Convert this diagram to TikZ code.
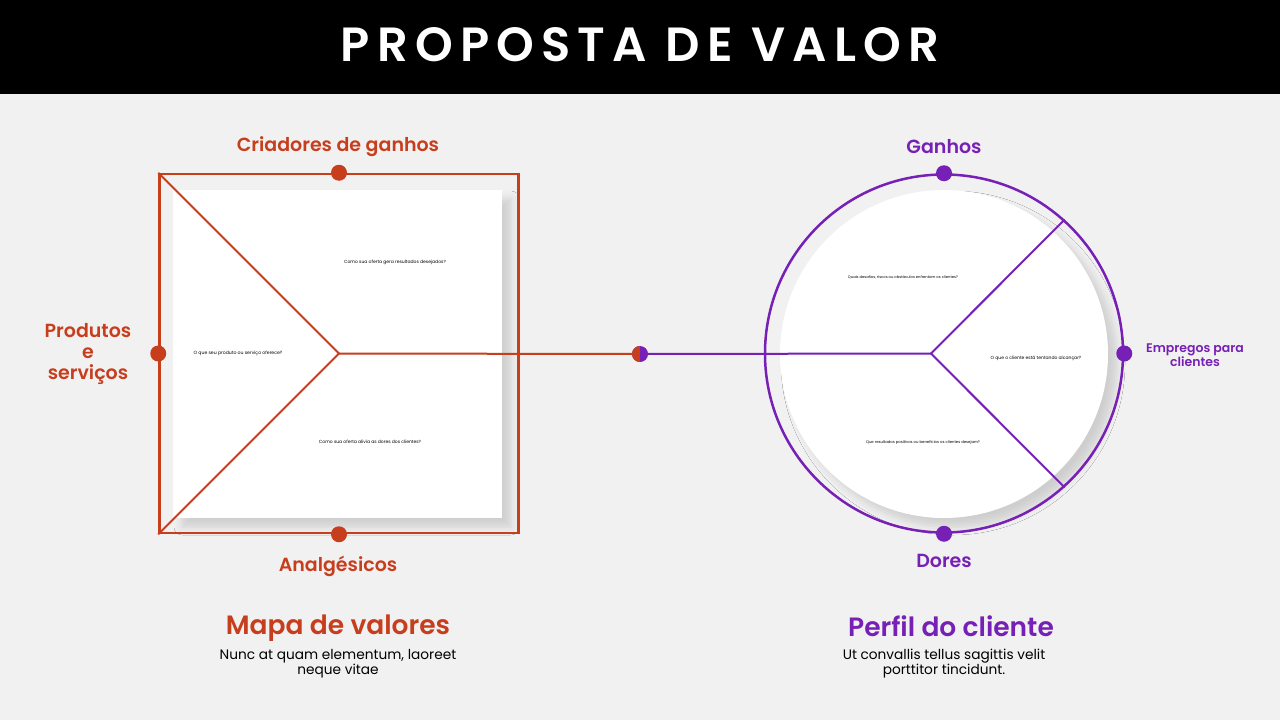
\documentclass[tikz,border=0pt]{standalone}
\usepackage{fontspec}
\setmainfont{Poppins}[BoldFont={Poppins SemiBold}]
\usetikzlibrary{shadows.blur}
\definecolor{bgc}{HTML}{F2F1F1}
\definecolor{orng}{HTML}{C73E1D}
\definecolor{purp}{HTML}{7620B6}

\begin{document}
\begin{tikzpicture}[x=1pt,y=-1pt,
 dot/.style={circle,fill=#1,minimum size=16pt,inner sep=0pt},
 lab/.style={font=\fontsize{19}{21}\selectfont\bfseries,text=#1,align=center},
 big/.style={font=\fontsize{26.5}{28}\selectfont\bfseries,text=#1},
 body/.style={font=\fontsize{13.7}{15}\selectfont,align=center},
 tiny/.style={font=\fontsize{4.5}{6}\selectfont},
 sheet/.style={fill=white,inner sep=0pt,blur shadow={shadow xshift=9pt,shadow yshift=-9pt,shadow blur radius=8pt,shadow opacity=14}}]
\fill[bgc] (0,0) rectangle (1280,720);
\fill[black] (0,0) rectangle (1280,94);
\useasboundingbox (0,0) rectangle (1280,720);
\node[text=white,font=\fontsize{48}{50}\selectfont\bfseries\addfontfeature{LetterSpace=15}] (ttl) at (640,45) {PROPOSTA DE VALOR};
% value map
\node[sheet,minimum width=329pt,minimum height=328pt] (sq) at (337.5,354) {};
\node[draw=orng,line width=2.5pt,minimum size=359pt,inner sep=0pt] (box) at (339,353.5) {};
\coordinate (h1) at (339,353.5);
% customer profile
\node[sheet,circle,minimum size=328pt] (disc) at (944,354) {};
\node[draw=purp,circle,line width=2.5pt,minimum size=358pt,inner sep=0pt] (ring) at (944,353.5) {};
\coordinate (h2) at (931,353.5);
\coordinate (mid) at (640,354);
\draw[orng,line width=2pt] (box.north west) -- (h1) -- (box.south west);
\draw[orng,line width=2pt] (h1) -- (mid);
\draw[purp,line width=2pt] (mid) -- (h2);
\draw[purp,line width=2pt] (ring.48) -- (h2) -- (ring.-48);
\node[dot=purp,path picture={\fill[orng] (path picture bounding box.south west) rectangle (path picture bounding box.north);}] (md) at (mid) {};
\node[dot=orng] (gt) at (box.north) {};
\node[dot=orng] (gl) at (box.west) {};
\node[dot=orng] (gb) at (box.south) {};
\node[dot=purp] (pt) at (ring.north) {};
\node[dot=purp] (pr) at (ring.east) {};
\node[dot=purp] (pb) at (ring.south) {};
\node[lab=orng] (crg) at (338,147) {Criadores de ganhos};
\node[lab=orng] (pes) at (88,354) {Produtos\\e\\serviços};
\node[lab=orng] (alg) at (338,566) {Analgésicos};
\node[lab=purp] (gan) at (944,147) {Ganhos};
\node[lab=purp] (dor) at (944,561) {Dores};
\node[lab=purp,font=\fontsize{12.5}{13}\selectfont\bfseries] (emp) at (1195,355) {Empregos para\\clientes};
\node[tiny] (q1) at (395,262) {Como sua oferta gera resultados desejados?};
\node[tiny,font=\fontsize{4.6}{6}\selectfont] (q2) at (238,353) {O que seu produto ou serviço oferece?};
\node[tiny] (q3) at (370,442) {Como sua oferta alivia as dores dos clientes?};
\node[tiny,font=\fontsize{3.7}{5}\selectfont] (q4) at (903,277) {Quais desafios, riscos ou obstáculos enfrentam os clientes?};
\node[tiny] (q5) at (1036,358) {O que o cliente está tentando alcançar?};
\node[tiny,font=\fontsize{3.8}{5}\selectfont] (q6) at (923,443) {Que resultados positivos ou benefícios os clientes desejam?};
\node[big=orng] (mv) at (338,628) {Mapa de valores};
\node[body] (mvt) at (338,664) {Nunc at quam elementum, laoreet\\neque vitae};
\node[big=purp] (pc) at (951,626) {Perfil do cliente};
\node[body] (pct) at (944,664) {Ut convallis tellus sagittis velit\\porttitor tincidunt.};
\end{tikzpicture}
\end{document}
